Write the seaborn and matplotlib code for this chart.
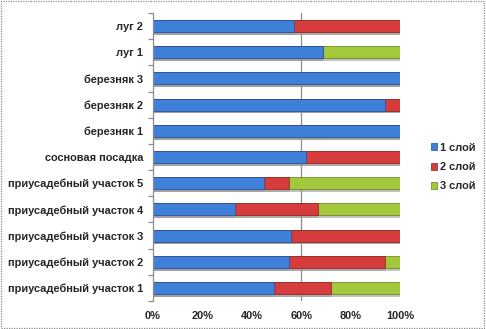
import numpy as np
import pandas as pd
import seaborn as sns
import matplotlib.pyplot as plt
from matplotlib.patches import Patch, Rectangle
from matplotlib import patheffects as pe
from matplotlib.ticker import FixedLocator, PercentFormatter

# Layer shares (%) per site, listed top to bottom
sites = ["луг 2", "луг 1", "березняк 3", "березняк 2", "березняк 1",
         "сосновая посадка", "приусадебный участок 5", "приусадебный участок 4",
         "приусадебный участок 3", "приусадебный участок 2", "приусадебный участок 1"]
layer1 = [57, 69, 100, 94, 100, 62, 45, 33, 56, 55, 49]
layer2 = [43, 0, 0, 6, 0, 38, 10, 34, 44, 39, 23]
layer3 = [0, 31, 0, 0, 0, 0, 45, 33, 0, 6, 28]
layer_names = ["1 слой", "2 слой", "3 слой"]
x_ticks = [0, 20, 40, 60, 80, 100]

colors = ["#3f80d8", "#d63c3c", "#a4c83c"]
edges = ["#1f4f9a", "#8e1f1f", "#5f7e1c"]

df = pd.DataFrame({"site": sites, "l1": layer1, "l2": layer2, "l3": layer3})
df["c1"] = df["l1"]
df["c2"] = df["l1"] + df["l2"]
df["c3"] = df["l1"] + df["l2"] + df["l3"]

sns.set_style("white")
plt.rcParams["font.family"] = ["Liberation Sans", "DejaVu Sans"]

fig = plt.figure(figsize=(4.86, 3.29), dpi=100)
ax = fig.add_axes([153 / 486, 1 - 301 / 329, (400 - 153) / 486, (301 - 13) / 329])

# stacked bars: draw cumulative totals from the outermost layer inwards
for col, c, ec in zip(["c3", "c2", "c1"], colors[::-1], edges[::-1]):
    sns.barplot(data=df, x=col, y="site", orient="h", color=c, width=0.46,
                saturation=1, ax=ax, edgecolor=ec, linewidth=0.5)

for p in ax.patches:
    p.set_path_effects([pe.SimplePatchShadow(offset=(0, -2), shadow_rgbFace="#9a9a9a", alpha=0.6),
                        pe.Normal()])

ax.set_xlim(0, 100)
ax.set_ylim(len(sites) - 0.5, -0.5)
ax.set_xlabel("")
ax.set_ylabel("")
ax.xaxis.set_major_locator(FixedLocator(x_ticks))
ax.xaxis.set_major_formatter(PercentFormatter(decimals=0))
ax.axvline(60, color="#8c8c8c", lw=0.9, zorder=0)

for s in ["top", "right", "bottom"]:
    ax.spines[s].set_visible(False)
ax.spines["left"].set_color("#8c8c8c")
ax.spines["left"].set_linewidth(0.9)

ax.yaxis.set_minor_locator(FixedLocator(np.arange(-0.5, len(sites), 1.0)))
ax.tick_params(axis="y", which="major", length=0, pad=7.2, labelsize=7.9)
ax.tick_params(axis="y", which="minor", length=3.5, width=0.9, color="#8c8c8c", left=True)
ax.tick_params(axis="x", which="major", length=0, pad=7.5, labelsize=7.9)
for lbl in ax.get_yticklabels() + ax.get_xticklabels():
    lbl.set_fontweight("bold")

handles = [Patch(facecolor=c, edgecolor=ec, linewidth=0.5) for c, ec in zip(colors, edges)]
leg = fig.legend(handles, layer_names, loc="center left", bbox_to_anchor=(421 / 486, 1 - 167 / 329),
                 frameon=False, handlelength=0.6, handleheight=0.6, handletextpad=0.25,
                 labelspacing=0.85, prop={"size": 7.9, "weight": "bold"})

# outer dotted frame around the chart
fig.patches.append(Rectangle((0.002, 0.004), 0.994, 0.992, transform=fig.transFigure,
                             fill=False, edgecolor="#8a8a8a", linewidth=0.9, linestyle=(0, (1, 1))))

fig.savefig("out.png", dpi=100)
